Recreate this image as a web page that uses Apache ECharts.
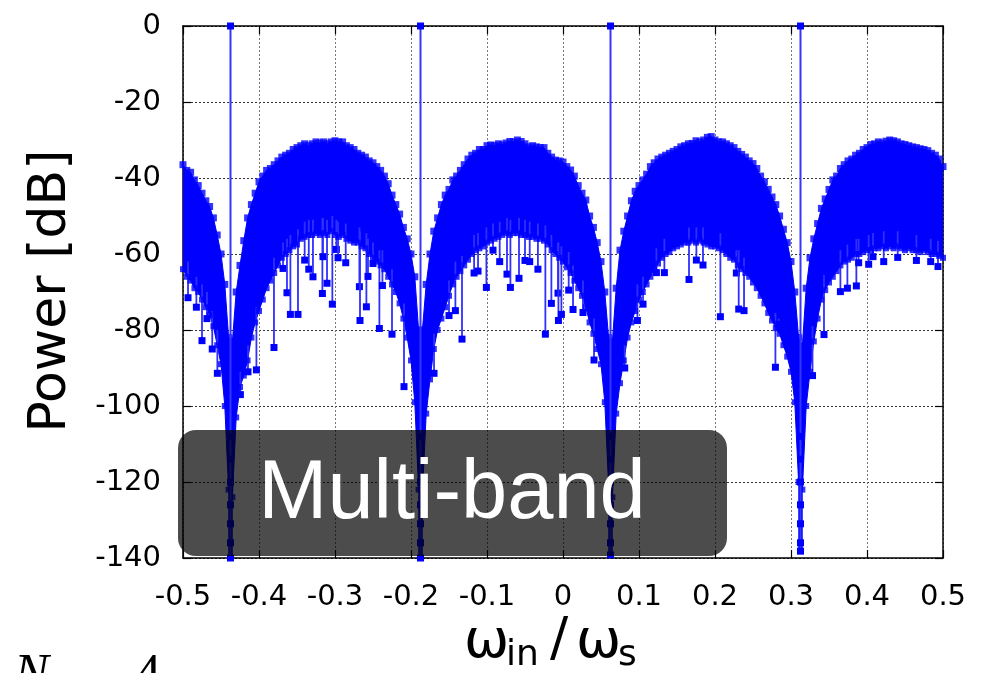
<!DOCTYPE html>
<html><head><meta charset="utf-8">
<script src="https://cdn.jsdelivr.net/npm/echarts@6/dist/echarts.min.js"></script>
<style>html,body{margin:0;padding:0;background:#fff}#c{width:993px;height:673px}</style>
</head><body><div id="c"></div>
<script>
// ---- data ----
const freqStart = -0.5;
const freqStep = 0.005;
const upperDb = [
-36.5,-38,-38.5,-40.5,-42,-44,-46,-47.5,-50.5,-55,
-60,-68,-82,-83,-70,-63,-56.5,-50.5,-47,-44,
-41,-39.5,-38,-37.5,-36.5,-35.5,-34.5,-34,-33.5,-32.5,
-32,-31.5,-31,-31.5,-31,-30.5,-30.8,-30.5,-31,-30.5,
-30.2,-30.5,-30.5,-31.5,-32,-32.5,-33.5,-34,-34.5,-35.5,
-36,-37,-38,-39.5,-41.5,-44.5,-47,-49.5,-53,-56,
-60,-66,-80,-80,-68,-60,-54,-50.5,-47,-44.5,
-43,-40.5,-39.5,-38,-36.5,-35,-34,-33.5,-32.5,-32.5,
-31.5,-31.3,-31.5,-31,-31.3,-30.8,-30.4,-30.5,-30,-30.4,
-31,-31.8,-31.5,-31.8,-32,-32,-33.5,-34.5,-35.3,-35.5,
-35.8,-37,-37.9,-39.5,-42,-44,-45.8,-50,-53,-57,
-62,-70,-82,-83,-69,-59,-54,-50,-46,-43.5,
-42,-40.5,-39,-37,-36,-35,-34.5,-34,-33.5,-33,
-32.5,-31.8,-31.5,-31,-30.9,-30.2,-30.5,-30,-29.3,-29.1,
-30,-30.5,-30.5,-31,-31.5,-32,-33,-33.8,-34.5,-35.5,
-36.2,-37.5,-39.5,-41,-43,-45,-47,-50,-53.5,-57,
-62,-70,-82,-84,-69,-61,-56,-52,-48,-45.5,
-43,-40.5,-39.5,-37.5,-36.5,-35.5,-35,-34,-33.5,-32.5,
-32,-31.2,-31,-30.5,-30.8,-30.3,-30,-30.2,-30.5,-31,
-31.2,-31.5,-31.8,-32,-32.3,-32.5,-32.8,-33.5,-34,-35,
-37
];
const lowerDb = [
-64,-66,-67,-69,-70,-72,-74,-76,-79,-84,
-89,-100,-122,-124,-103,-95,-92,-88,-82,-78,
-75,-72,-69,-67,-65,-63,-61,-60,-59,-58,
-57.5,-56,-55.5,-55,-55,-54.5,-55,-54.5,-55,-54,
-55,-55.5,-55,-56,-56.5,-57,-57,-58,-58.5,-60,
-61,-62,-63,-64,-66,-68,-70,-73,-77,-82,
-88,-99,-122,-123,-102,-93,-85,-80,-77,-74,
-71,-68,-66,-64.5,-63,-61.5,-60,-59,-58.5,-58,
-57,-56.5,-56,-55.5,-55,-54.5,-55,-54.5,-54.5,-55,
-55,-55.5,-55.5,-56,-56,-56.5,-57.5,-59,-60,-61,
-62,-63.5,-65,-67,-69,-71,-74,-78,-81,-85,
-89,-99,-121,-124,-102,-94,-88,-82,-78,-75,
-72,-70,-68,-66,-64,-62.5,-61,-60,-59.5,-58.5,
-58,-57.5,-57,-57,-56.5,-57,-56.5,-57,-57.5,-58,
-58,-58.5,-59,-60,-61,-61.5,-63,-64,-65,-66,
-67.5,-69,-71,-73,-75.5,-77.5,-79.5,-81,-84,-87,
-91,-99,-120,-122,-100,-91,-83,-77,-72,-69.5,
-67.5,-66,-64.5,-63,-62,-61.5,-61,-60,-60,-59.5,
-59,-59,-58.5,-58.5,-58,-58.5,-58,-58.5,-58,-58.5,
-59,-58.5,-59,-59,-59.5,-59,-59.5,-60,-60,-60.5,
-61
];
const spikeFreq = [
-0.4934,-0.4824,-0.475,-0.4685,-0.4615,-0.4548,
-0.4245,-0.4145,-0.4034,-0.3803,-0.3684,-0.3632,-0.3587,-0.3487,-0.3399,-0.3345,-0.329,-0.3166,-0.3158,-0.3105,-0.3035,-0.2982,-0.296,-0.2859,-0.2679,-0.2671,-0.2587,-0.2566,-0.25,-0.2416,-0.2376,-0.225,-0.2092,
-0.1697,-0.15,-0.1416,-0.1329,-0.117,-0.1118,-0.1008,-0.0921,-0.0833,-0.0737,-0.0692,-0.0579,-0.05,-0.0438,-0.033,-0.0232,-0.0153,-0.0066,-0.006,-0.0021,0.0075,0.0132,0.0263,0.0408,
0.0812,0.0979,0.1053,0.1229,0.1334,0.1658,0.1755,0.1842,0.2071,0.2281,0.2312,0.2382,0.2795,0.2838,
0.3283,0.3434,0.365,0.3742,0.386,0.389,0.4022,0.4079,0.422,0.4404,0.465,0.4838,0.4934
];
const spikeDb = [
-71.5,-74,-82.8,-77,-85,-91.4,
-97,-91,-90.5,-84.6,-63.8,-70.2,-75.9,-75.9,-61.6,-64,-66,-70.4,-60.7,-67.7,-73.2,-58.8,-61,-62.3,-68.6,-77.5,-73.9,-65.9,-62.5,-79.6,-68.3,-81.1,-94.9,
-91.4,-76.2,-74.9,-82.4,-65,-64.5,-68.8,-59,-62,-65.3,-68.8,-66.4,-61.7,-62,-64,-81.1,-73,-70.3,-77.5,-75.9,-69.5,-74.6,-75.4,-87.9,
-90,-77.5,-73.2,-64.9,-64.9,-66.7,-61.6,-62.9,-76.5,-65,-74.5,-74.9,-89.8,-78.5,
-92,-81.2,-69.9,-69,-68.4,-62.3,-62.7,-60.7,-62,-60.9,-61.7,-62,-63.3
];
const toneFreq = [-0.4375, -0.1875, 0.0625, 0.3125];
const tonePeakDb = [0, 0, 0, 0];
const nullDepthDb = [-140, -140, -139.2, -138.2];
const nullColumnTopDb = -104;
const nullMarkDb = [-108, -114, -120, -126, -131, -136];
const xMin = -0.5, xMax = 0.5, xStep = 0.1;
const yMin = -140, yMax = 0, yStep = 20;

// ---- build series data from the arrays ----
const freqAt = i => freqStart + i * freqStep;
const upperPts = upperDb.map((v, i) => [freqAt(i), v]);
const lowerPts = lowerDb.map((v, i) => [freqAt(i), v]);
const spikeRows = spikeFreq.map((f, k) => {
  const idx = Math.round((f - freqStart) / freqStep);
  return [f, spikeDb[k], lowerDb[idx] + 4];
});
const toneRows = toneFreq.map((f, k) => [f, tonePeakDb[k], nullDepthDb[k]]);

const BLUE = '#0000ff';
const FONT = 'DejaVu Sans';
const chart = echarts.init(document.getElementById('c'), null, {renderer: 'canvas'});

const axisCommon = {
  axisLine: {show: true, onZero: false, lineStyle: {color: '#000', width: 1.5}},
  axisTick: {show: true, inside: true, length: 8, lineStyle: {color: '#000', width: 1.2}}
};

chart.setOption({
  animation: false,
  backgroundColor: '#fff',
  grid: {left: 183, right: 50, top: 26, bottom: 115, containLabel: false},
  xAxis: [
    Object.assign({
      type: 'value', min: xMin, max: xMax, interval: xStep, position: 'bottom',
      axisLabel: {show: true, margin: 25, fontSize: 29, fontFamily: FONT, color: '#000', interval: 0,
        formatter: v => Math.abs(v) < 1e-9 ? '0' : v.toFixed(1)},
      splitLine: {show: true, lineStyle: {color: '#777', width: 1, type: [2, 2]}}
    }, axisCommon),
    Object.assign({
      type: 'value', min: xMin, max: xMax, interval: xStep, position: 'top',
      axisLabel: {show: false}, splitLine: {show: false}
    }, axisCommon)
  ],
  yAxis: [
    Object.assign({
      type: 'value', min: yMin, max: yMax, interval: yStep, position: 'left',
      axisLabel: {show: true, margin: 22, fontSize: 29, fontFamily: FONT, color: '#000'},
      splitLine: {show: true, lineStyle: {color: '#333', width: 1, type: [2, 2]}}
    }, axisCommon),
    Object.assign({
      type: 'value', min: yMin, max: yMax, interval: yStep, position: 'right',
      axisLabel: {show: false}, splitLine: {show: false}
    }, axisCommon)
  ],
  series: [
    {
      type: 'custom', name: 'body', clip: true, z: 2, silent: true,
      data: [[0, 0]],
      renderItem: function (params, api) {
        const pts = [];
        for (let i = 0; i < upperPts.length; i++) pts.push(api.coord(upperPts[i]));
        for (let i = lowerPts.length - 1; i >= 0; i--) pts.push(api.coord(lowerPts[i]));
        return {type: 'polygon', shape: {points: pts}, style: {fill: BLUE, stroke: BLUE, lineWidth: 1}};
      }
    },
    {
      type: 'custom', name: 'spikes', clip: true, z: 3, silent: true,
      encode: {x: 0, y: [1, 2]},
      data: spikeRows,
      renderItem: function (params, api) {
        const x = api.value(0), tip = api.value(1), base = api.value(2);
        const a = api.coord([x, base]), b = api.coord([x, tip]);
        return {type: 'group', children: [
          {type: 'line', shape: {x1: a[0], y1: a[1], x2: b[0], y2: b[1]}, style: {stroke: '#2f2fff', lineWidth: 1.8}},
          {type: 'rect', shape: {x: b[0] - 3.5, y: b[1] - 3.5, width: 7, height: 7}, style: {fill: BLUE}}
        ]};
      }
    },
    {
      type: 'scatter', name: 'upper', z: 4, silent: true, symbol: 'rect', symbolSize: 7,
      itemStyle: {color: BLUE}, data: upperPts
    },
    {
      type: 'scatter', name: 'lower', z: 4, silent: true, symbol: 'rect', symbolSize: 6,
      itemStyle: {color: BLUE}, data: lowerPts
    },
    {
      type: 'custom', name: 'tones', clip: false, z: 5, silent: true,
      encode: {x: 0, y: [1, 2]},
      data: toneRows,
      renderItem: function (params, api) {
        const x = api.value(0), top = api.value(1), bot = api.value(2);
        const pTop = api.coord([x, top]), pBot = api.coord([x, bot]), pCol = api.coord([x, nullColumnTopDb]);
        const kids = [
          {type: 'line', shape: {x1: pCol[0], y1: pCol[1], x2: pBot[0], y2: pBot[1]}, style: {stroke: BLUE, lineWidth: 4.5}},
          {type: 'line', shape: {x1: pTop[0], y1: pTop[1], x2: pBot[0], y2: pBot[1]}, style: {stroke: '#3535ff', lineWidth: 2}},
          {type: 'rect', shape: {x: pTop[0] - 3.5, y: pTop[1] - 3.5, width: 7, height: 7}, style: {fill: BLUE}},
          {type: 'rect', shape: {x: pBot[0] - 3.5, y: pBot[1] - 3.5, width: 7, height: 7}, style: {fill: BLUE}}
        ];
        nullMarkDb.forEach(v => {
          const p = api.coord([x, v]);
          kids.push({type: 'rect', shape: {x: p[0] - 3.5, y: p[1] - 3.5, width: 7, height: 7}, style: {fill: BLUE}});
        });
        return {type: 'group', children: kids};
      }
    }
  ],
  graphic: [
    {type: 'rect', z: 100, shape: {x: 178, y: 430, width: 549, height: 126, r: 18},
      style: {fill: 'rgba(0,0,0,0.7)'}},
    {type: 'text', z: 101, x: 452, y: 495,
      style: {text: 'Multi-band', fill: '#fff', font: '83px "Liberation Sans"', textAlign: 'center', textVerticalAlign: 'middle'}},
    {type: 'text', z: 101, x: 51, y: 291, rotation: Math.PI / 2,
      style: {text: 'Power [dB]', fill: '#000', font: '52px "DejaVu Sans"', textAlign: 'center', textVerticalAlign: 'middle'}},
    {type: 'text', z: 101, x: 464, y: 643,
      style: {text: 'ω', fill: '#000', font: '54px "DejaVu Sans"', textAlign: 'left', textVerticalAlign: 'middle'}},
    {type: 'text', z: 101, x: 506, y: 656,
      style: {text: 'in', fill: '#000', font: '36px "DejaVu Sans"', textAlign: 'left', textVerticalAlign: 'middle'}},
    {type: 'text', z: 101, x: 550, y: 641,
      style: {text: '/', fill: '#000', font: '54px "DejaVu Sans"', textAlign: 'left', textVerticalAlign: 'middle'}},
    {type: 'text', z: 101, x: 576, y: 643,
      style: {text: 'ω', fill: '#000', font: '54px "DejaVu Sans"', textAlign: 'left', textVerticalAlign: 'middle'}},
    {type: 'text', z: 101, x: 618, y: 656,
      style: {text: 's', fill: '#000', font: '36px "DejaVu Sans"', textAlign: 'left', textVerticalAlign: 'middle'}},
    {type: 'text', z: 101, x: 14, y: 676,
      style: {text: 'N', fill: '#000', font: 'italic 52px "Liberation Serif"', textAlign: 'left', textVerticalAlign: 'middle'}},
    {type: 'text', z: 101, x: 135, y: 676,
      style: {text: '4', fill: '#000', font: '52px "Liberation Serif"', textAlign: 'left', textVerticalAlign: 'middle'}}
  ]
});
</script>
</body></html>
